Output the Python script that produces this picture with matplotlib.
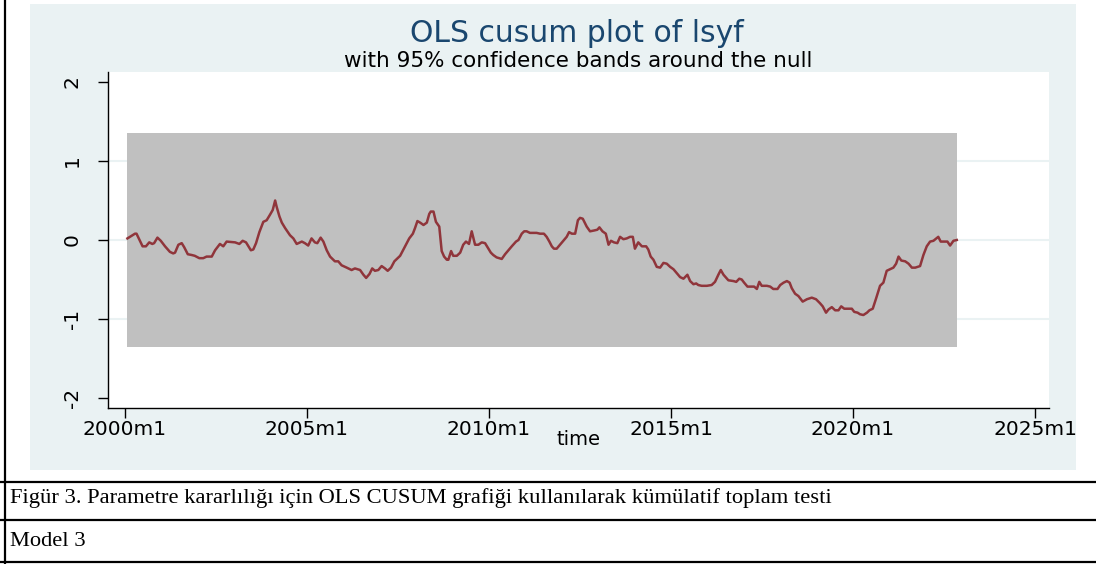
import numpy as np
import matplotlib.pyplot as plt
from matplotlib.patches import Rectangle
from matplotlib.lines import Line2D

# months since 2000m1
months = [0.8, 3.3, 3.8, 5.8, 6.9, 8.0, 9.0, 9.6, 10.7, 11.8, 13.2, 14.8, 15.9, 16.5, 17.6, 18.7, 19.5, 20.7,
          22.0, 23.0, 24.5, 25.8, 26.9, 28.6, 29.7, 31.3, 32.4, 33.5, 36.3, 37.7, 38.8, 39.9, 41.5, 42.3, 43.2, 44.3,
          45.6, 46.7, 47.8, 48.7, 49.5, 50.0, 50.9, 51.7, 52.8, 54.4, 55.5, 56.6, 58.3, 59.3, 60.4, 61.5, 62.6, 63.4,
          64.5, 65.4, 66.5, 67.6, 69.2, 70.3, 71.4, 73.1, 74.7, 75.8, 77.5, 78.6, 79.5, 80.6, 81.5, 82.4, 83.5, 84.6,
          85.7, 86.6, 87.7, 88.8, 90.7,
          91.8, 92.6, 93.7, 94.9, 95.6, 96.4, 97.3, 98.4, 99.5, 100.3, 100.8, 101.7, 102.5, 103.6, 104.4, 105.2,
          106.1, 106.6, 107.5, 108.2, 109.4, 110.5, 111.5, 112.4, 113.4, 114.3, 115.4, 116.5, 117.6, 118.7, 119.8,
          120.6, 121.4, 122.5, 124.2, 125.3, 126.4, 127.5, 128.9, 129.7, 130.8, 131.6, 132.4, 133.5, 135.7,
          136.8, 138.1, 139.0, 139.9, 140.7, 141.4, 142.3, 143.4, 144.5, 145.6, 146.4, 147.3, 148.4, 149.3, 150.0,
          150.9, 152.2, 153.3, 154.6, 155.7, 156.4, 157.4, 158.5, 159.4, 160.2, 161.2, 162.3, 163.2, 164.3, 165.4,
          166.5, 167.4, 168.1, 169.2, 170.4, 171.8, 172.5, 173.3, 174.2, 175.3, 176.4, 177.5, 178.6, 179.7, 180.8,
          181.9, 183.0,
          184.1, 185.4, 186.3, 187.4, 188.3, 189.0, 190.1, 191.8, 193.4, 194.5, 195.6, 196.4, 197.3, 198.9, 200.6,
          201.5, 202.5, 203.3, 204.1, 205.2, 206.3, 207.4, 208.3, 209.1, 209.9, 211.6, 212.7, 213.7, 215.1, 216.0,
          217.1, 218.2, 219.1, 219.8, 220.9, 222.0, 223.4, 224.8, 226.4, 227.8, 229.1,
          230.0, 231.1, 231.9, 233.0, 234.1, 235.2, 236.1, 237.1, 238.5, 239.6, 240.4, 241.5, 242.3, 243.4, 244.6,
          245.4, 246.5, 247.6, 248.9, 250.0, 251.1, 252.2, 253.3, 254.2, 255.0, 255.9, 257.2, 258.3, 259.4, 260.5,
          262.1, 263.2, 264.3, 265.4, 266.5, 268.1, 268.9, 270.0, 271.1, 272.0, 273.1, 274.2]

cusum = [0.02, 0.08, 0.08, -0.08, -0.08, -0.03, -0.05, -0.04, 0.03, -0.01, -0.08, -0.15, -0.17, -0.16, -0.06,
         -0.04, -0.09, -0.18, -0.19, -0.20, -0.23, -0.23, -0.21, -0.21, -0.13, -0.05, -0.08, -0.02, -0.03, -0.05,
         -0.01, -0.03, -0.13, -0.12, -0.04, 0.10,
         0.23, 0.25, 0.32, 0.38, 0.50, 0.42, 0.30, 0.22, 0.15, 0.06, 0.02, -0.05, -0.02, -0.04, -0.07, 0.02, -0.03,
         -0.04, 0.03, -0.02, -0.13, -0.21, -0.27, -0.27, -0.32, -0.35, -0.38, -0.36, -0.38, -0.44, -0.48, -0.43,
         -0.36, -0.39, -0.38, -0.33, -0.36, -0.39, -0.35, -0.27, -0.20,
         -0.12, -0.06, 0.02, 0.08, 0.15, 0.24, 0.22, 0.19, 0.22, 0.33, 0.36, 0.36, 0.23, 0.17, -0.14, -0.21, -0.25,
         -0.25, -0.14, -0.20, -0.20, -0.16, -0.06, -0.02, -0.05, 0.11, -0.06, -0.06, -0.03, -0.04, -0.11, -0.16,
         -0.19, -0.22, -0.24, -0.18, -0.13, -0.08, -0.02, 0.00, 0.08, 0.11, 0.11, 0.09, 0.09,
         0.08, 0.08, 0.04, -0.02, -0.08, -0.11, -0.11, -0.06, -0.01, 0.04, 0.10, 0.08, 0.08, 0.25, 0.28, 0.27, 0.17,
         0.11, 0.12, 0.13, 0.16, 0.11, 0.08, -0.06, -0.01, -0.03, -0.04, 0.04, 0.01, 0.02, 0.04, 0.04, -0.11, -0.03,
         -0.08, -0.08, -0.12, -0.21, -0.25, -0.34, -0.35, -0.29, -0.30, -0.34, -0.37, -0.42, -0.47,
         -0.49, -0.44, -0.52, -0.56, -0.55, -0.57, -0.58, -0.58, -0.57, -0.53, -0.44, -0.38, -0.44, -0.51, -0.52,
         -0.53, -0.49, -0.50, -0.54, -0.59, -0.59, -0.59, -0.62, -0.53, -0.58, -0.58, -0.59, -0.62, -0.62, -0.57,
         -0.54, -0.52, -0.54, -0.61, -0.68, -0.71, -0.78, -0.75, -0.73, -0.75, -0.80,
         -0.84, -0.92, -0.88, -0.85, -0.89, -0.89, -0.84, -0.87, -0.87, -0.87, -0.91, -0.92, -0.94, -0.95, -0.92,
         -0.89, -0.87, -0.74, -0.58, -0.54, -0.39, -0.37, -0.35, -0.30, -0.21, -0.26, -0.27, -0.30, -0.35, -0.35,
         -0.33, -0.19, -0.08, -0.02, -0.01, 0.04, -0.02, -0.02, -0.02, -0.07, -0.01, 0.00]

band = 1.358  # 95% bound
xtick_months = [0, 60, 120, 180, 240, 300]
xtick_labels = ["2000m1", "2005m1", "2010m1", "2015m1", "2020m1", "2025m1"]
yticks = [-2, -1, 0, 1, 2]

W, H = 1096, 564
fig = plt.figure(figsize=(W / 100, H / 100), dpi=100)
fig.patch.set_facecolor("white")

# stata graph region
fig.patches.append(Rectangle((30 / W, 1 - 470 / H), 1046 / W, 466 / H, transform=fig.transFigure,
                             facecolor="#EAF2F3", edgecolor="none", zorder=-5))

ax = fig.add_axes([108 / W, 1 - 408 / H, 941 / W, 336 / H])
ax.set_zorder(1)
ax.set_facecolor("white")
ax.set_xlim(-5.6, 304.6)
ax.set_ylim(-2.127, 2.127)

for g in [-1, 0, 1]:
    ax.axhline(g, color="#EAF2F3", lw=1.5, zorder=1)
ax.fill_between([months[0], months[-1]], -band, band, color="#C0C0C0", lw=0, zorder=2)
ax.plot(months, cusum, color="#90353B", lw=1.8, zorder=3)

ax.set_xticks(xtick_months)
ax.set_xticklabels(xtick_labels, fontsize=14.5, family="DejaVu Sans")
ax.set_yticks(yticks)
ax.set_yticklabels([str(v) for v in yticks], fontsize=14.5, rotation=90, va="center")
ax.tick_params(direction="out", length=7, width=1)
ax.tick_params(axis="x", pad=1.5)
ax.tick_params(axis="y", pad=12)
for s in ["top", "right"]:
    ax.spines[s].set_visible(False)
for s in ["left", "bottom"]:
    ax.spines[s].set_linewidth(1)
ax.set_xlabel("time", fontsize=14, labelpad=-6)

fig.text(577 / W, 1 - 34 / H, "OLS cusum plot of lsyf", ha="center", va="center",
         fontsize=21.5, color="#1A476F")
fig.text(578 / W, 1 - 61 / H, "with 95% confidence bands around the null", ha="center", va="center",
         fontsize=15.5, color="black")

# document table borders and caption
for yy in [482, 520, 562]:
    fig.add_artist(Line2D([0, 1], [1 - yy / H, 1 - yy / H], transform=fig.transFigure, color="black", lw=1.6))
fig.add_artist(Line2D([5 / W, 5 / W], [0, 1], transform=fig.transFigure, color="black", lw=1.6))
fig.text(10 / W, 1 - 498 / H,
         "Figür 3. Parametre kararlılığı için OLS CUSUM grafiği kullanılarak kümülatif toplam testi",
         ha="left", va="center", fontsize=16.2, family="Liberation Serif")
fig.text(10 / W, 1 - 541 / H, "Model 3", ha="left", va="center", fontsize=16.2, family="Liberation Serif")

fig.savefig("out.png", dpi=100)
